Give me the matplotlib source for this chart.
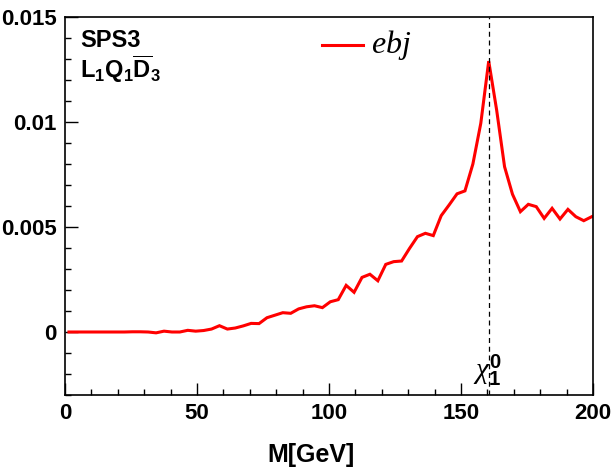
import matplotlib
matplotlib.use("Agg")
import matplotlib.pyplot as plt
from matplotlib.ticker import MultipleLocator, FixedLocator, FixedFormatter

plt.rcParams['mathtext.fontset'] = 'custom'
plt.rcParams['mathtext.rm'] = 'Liberation Sans'
plt.rcParams['mathtext.bf'] = 'Liberation Sans:bold'
plt.rcParams['mathtext.it'] = 'Liberation Serif:italic'

# bin centres (GeV)
mass = [1.5 + 3 * k for k in range(67)]
ebj = [0, 0, 0, 0, 0, 0, 0, 0, 0.00001, 0.00001,
       0.0, -0.00004, 0.00004, 0.0, 0.0, 0.00008, 0.00004, 0.00007, 0.00014, 0.0003,
       0.00014, 0.00019, 0.00029, 0.00041, 0.0004, 0.00068, 0.0008, 0.00092, 0.00089, 0.0011,
       0.0012, 0.00125, 0.00116, 0.00144, 0.00154, 0.00222, 0.00189, 0.0026, 0.00275, 0.00244,
       0.00322, 0.00335, 0.00338, 0.00398, 0.00454, 0.0047, 0.00459, 0.00554, 0.00605, 0.00658,
       0.00672, 0.008, 0.00994, 0.0129, 0.01057, 0.00787, 0.00656, 0.00573, 0.00608, 0.00597,
       0.00541, 0.00589, 0.00538, 0.00584, 0.00549, 0.0053, 0.00549]
chi_mass = 160.6

yticks = [0, 0.005, 0.01, 0.015]
ytick_labels = ["0", "0.005", "0.01", "0.015"]
xticks = [0, 50, 100, 150, 200]
xtick_labels = ["0", "50", "100", "150", "200"]

W, H = 613, 468
fig = plt.figure(figsize=(W / 100, H / 100), dpi=100)
ax = fig.add_axes([65 / W, (H - 395) / H, (593 - 65) / W, (395 - 17) / H])

ax.plot(mass, ebj, color='#ff0000', lw=2.2, solid_joinstyle='miter')
ax.axvline(chi_mass, color='black', lw=0.9, ls=(0, (4, 3)))

ax.set_xlim(0, 200)
ax.set_ylim(-0.003, 0.015)

ax.xaxis.set_major_locator(FixedLocator(xticks))
ax.xaxis.set_major_formatter(FixedFormatter(xtick_labels))
ax.xaxis.set_minor_locator(MultipleLocator(10))
ax.yaxis.set_major_locator(FixedLocator(yticks))
ax.yaxis.set_major_formatter(FixedFormatter(ytick_labels))
ax.yaxis.set_minor_locator(MultipleLocator(0.001))

ax.tick_params(which='both', direction='in', top=False, right=False, width=1.0)
ax.tick_params(which='major', length=9, pad=6)
ax.tick_params(which='minor', length=4.5)
for lab in ax.get_xticklabels() + ax.get_yticklabels():
    lab.set_family('Liberation Sans')
    lab.set_fontweight('bold')
    lab.set_fontsize(16)
for sp in ax.spines.values():
    sp.set_linewidth(1.2)

fig.text(311 / W, 1 - 455 / H, 'M[GeV]', family='Liberation Sans', weight='bold',
         fontsize=18, ha='center', va='center')

ax.text(0.028, 0.968, 'SPS3', transform=ax.transAxes,
        family='Liberation Sans', weight='bold', fontsize=17, ha='left', va='top')
ax.text(0.028, 0.905, r'$\mathbf{L_{1}Q_{1}\overline{D}_{3}}$', transform=ax.transAxes,
        fontsize=17, ha='left', va='top')

# legend
ax.plot([0.486, 0.565], [0.927, 0.927], transform=ax.transAxes, color='#ff0000', lw=2.2)
ax.text(0.58, 0.927, r'$ebj$', transform=ax.transAxes, fontsize=23, ha='left',
        va='center')

ax.text(chi_mass - 0.5, -0.0018, r'$\chi^{\mathbf{0}}_{\mathbf{1}}$', fontsize=21,
        ha='center', va='center', family='Liberation Sans')

fig.savefig('out.png', dpi=100)
